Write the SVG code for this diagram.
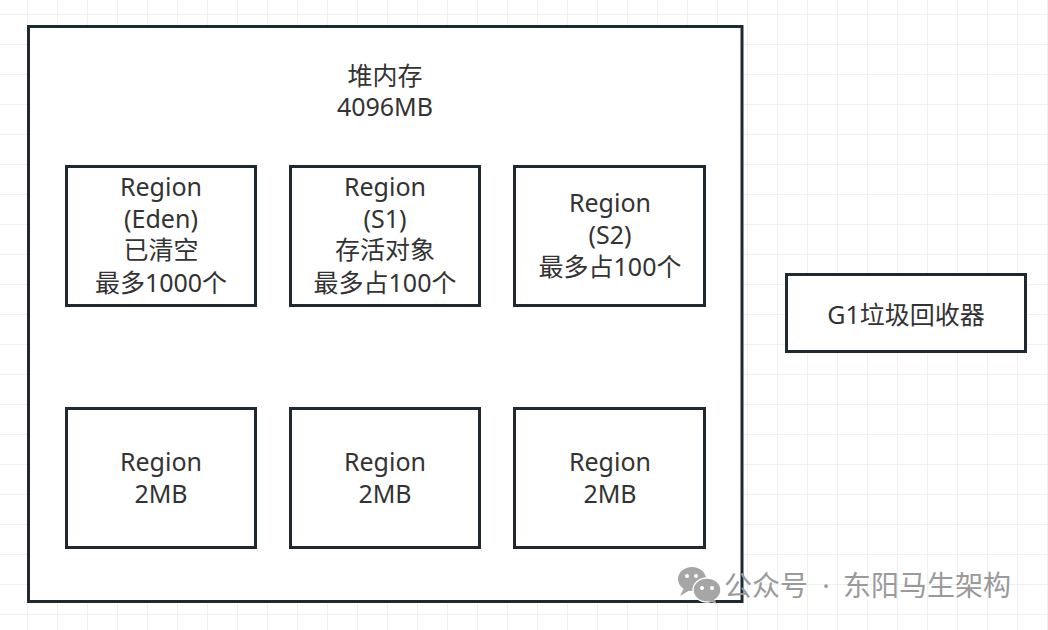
<svg xmlns="http://www.w3.org/2000/svg" width="1048" height="630" viewBox="0 0 1048 630">
<defs>
<pattern id="grid" x="27" y="14" width="30" height="30" patternUnits="userSpaceOnUse">
<path d="M0 0 H30 M0 0 V30" fill="none" stroke="#ececec" stroke-width="1.5"/>
</pattern>
<style>
.box{fill:#fff;stroke:#1f2930;stroke-width:3}
.t{font-family:"Noto Sans","Noto Sans CJK SC",sans-serif;font-size:25px;fill:#333;text-anchor:middle}
.wm{font-family:"Noto Sans","Noto Sans CJK SC",sans-serif;font-size:28px;fill:#9a9a9a}
</style>
</defs>
<rect width="1048" height="630" fill="#fff"/>
<rect width="1048" height="630" fill="url(#grid)"/>
<g id="heap">
<rect class="box" x="28.5" y="26.5" width="713.5" height="575"/>
<text class="t" x="385" y="85">堆内存</text>
<text class="t" x="385" y="116">4096MB</text>
</g>
<g id="eden">
<rect class="box" x="66.5" y="166.5" width="189" height="139"/>
<text class="t" x="161" y="196">Region</text>
<text class="t" x="161" y="228">(Eden)</text>
<text class="t" x="161" y="259">已清空</text>
<text class="t" x="161" y="292">最多1000个</text>
</g>
<g id="s1">
<rect class="box" x="290.5" y="166.5" width="189" height="139"/>
<text class="t" x="385" y="196">Region</text>
<text class="t" x="385" y="228">(S1)</text>
<text class="t" x="385" y="259">存活对象</text>
<text class="t" x="385" y="292">最多占100个</text>
</g>
<g id="s2">
<rect class="box" x="514.5" y="166.5" width="190" height="139"/>
<text class="t" x="610" y="212">Region</text>
<text class="t" x="610" y="244">(S2)</text>
<text class="t" x="610" y="276">最多占100个</text>
</g>
<g id="r4">
<rect class="box" x="66.5" y="408.5" width="189" height="139"/>
<text class="t" x="161" y="471">Region</text>
<text class="t" x="161" y="503">2MB</text>
</g>
<g id="r5">
<rect class="box" x="290.5" y="408.5" width="189" height="139"/>
<text class="t" x="385" y="471">Region</text>
<text class="t" x="385" y="503">2MB</text>
</g>
<g id="r6">
<rect class="box" x="514.5" y="408.5" width="190" height="139"/>
<text class="t" x="610" y="471">Region</text>
<text class="t" x="610" y="503">2MB</text>
</g>
<g id="g1">
<rect class="box" x="786.5" y="274.5" width="239" height="77"/>
<text class="t" x="906" y="324">G1垃圾回收器</text>
</g>
<g id="connectors"></g>
<g id="watermark">
<ellipse cx="692" cy="579" rx="14" ry="12" fill="#a6a6a6"/>
<path d="M684 588 L680 596 L690 590 Z" fill="#a6a6a6"/>
<ellipse cx="707" cy="590" rx="14" ry="12" fill="#a6a6a6" stroke="#fff" stroke-width="1.5"/>
<path d="M714 599 L717 604 L708 601 Z" fill="#a6a6a6"/>
<circle cx="687" cy="576" r="2" fill="#fff"/>
<circle cx="696" cy="576" r="2" fill="#fff"/>
<circle cx="702" cy="588" r="2" fill="#fff"/>
<circle cx="712" cy="588" r="2" fill="#fff"/>
<text class="wm" x="724" y="596">公众号</text>
<text class="wm" x="826" y="596" text-anchor="middle">·</text>
<text class="wm" x="843" y="596">东阳马生架构</text>
</g>
</svg>
